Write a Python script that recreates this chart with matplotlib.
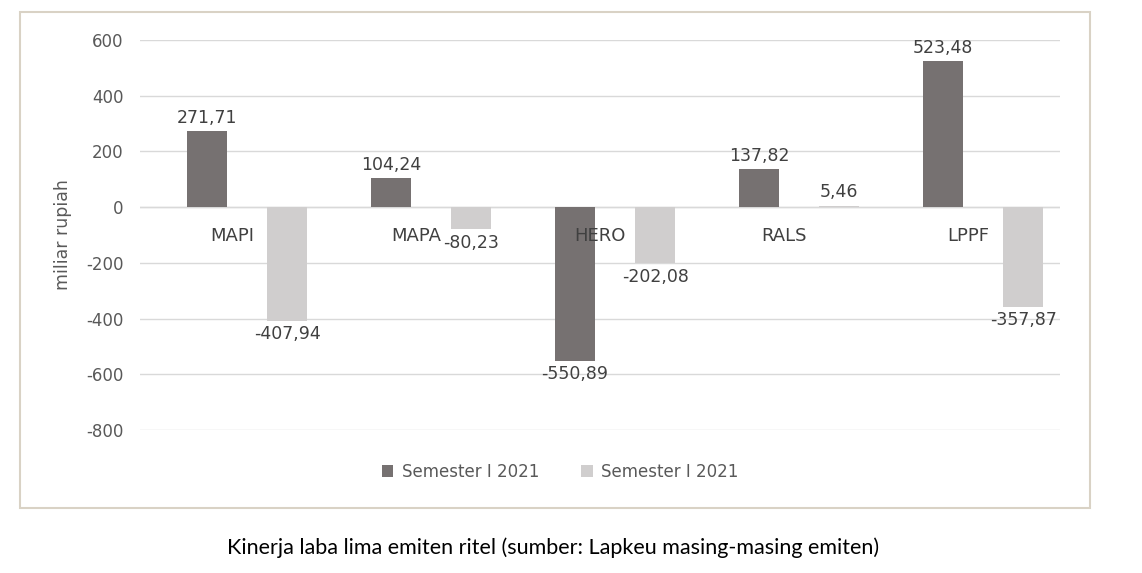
import matplotlib
matplotlib.use("Agg")
import matplotlib.pyplot as plt
from matplotlib.patches import Rectangle
import numpy as np

categories = ["MAPI", "MAPA", "HERO", "RALS", "LPPF"]
series1 = [271.71, 104.24, -550.89, 137.82, 523.48]
series2 = [-407.94, -80.23, -202.08, 5.46, -357.87]
series_names = ["Semester I 2021", "Semester I 2021"]
yticks = [600, 400, 200, 0, -200, -400, -600, -800]

W, H = 1142, 573
fig = plt.figure(figsize=(W/100, H/100), dpi=100)
fig.patches.append(Rectangle((20/W, 1-508/H), 1070/W, 496/H, transform=fig.transFigure,
                             fill=False, edgecolor="#D9D2C5", linewidth=1.5))
ax = fig.add_axes([140/W, 1-430/H, 920/W, 390/H])
x = np.arange(len(categories))
w = 0.22
c1, c2 = "#767171", "#D0CECE"
b1 = ax.bar(x - 0.136, series1, w, color=c1, label=series_names[0], zorder=3)
b2 = ax.bar(x + 0.30, series2, w, color=c2, label=series_names[1], zorder=3)
for bars, vals in ((b1, series1), (b2, series2)):
    for r, v in zip(bars, vals):
        cx = r.get_x() + r.get_width()/2
        txt = f"{v:.2f}".replace(".", ",")
        if v >= 0:
            ax.text(cx, v + 15, txt, ha="center", va="bottom", fontsize=12.5, color="#404040", zorder=4)
        else:
            ax.text(cx, v - 15, txt, ha="center", va="top", fontsize=12.5, color="#404040", zorder=4)
for i, c in enumerate(categories):
    ax.text(i, -105, c, ha="center", va="center", fontsize=13, color="#404040", zorder=5)
ax.set_xlim(-0.5, len(categories) - 0.5)
ax.set_ylim(-800, 600)
ax.set_yticks(yticks)
ax.set_yticklabels([str(t) for t in yticks], fontsize=12, color="#595959")
ax.set_xticks([])
ax.tick_params(axis="y", length=0, pad=12)
ax.grid(axis="y", color="#D9D9D9", linewidth=1, zorder=0)
ax.axhline(0, color="#D9D9D9", linewidth=1, zorder=2)
for s in ax.spines.values():
    s.set_visible(False)
ax.set_ylabel("miliar rupiah", fontsize=12.5, color="#595959", labelpad=10)
fig.legend(handles=[b1, b2], loc="center", bbox_to_anchor=(560/W, 1-472/H), ncol=2,
           frameon=False, fontsize=12, handlelength=0.7, handleheight=0.7,
           columnspacing=2.5, handletextpad=0.5, labelcolor="#595959")
fig.text(553/W, 1-548/H, "Kinerja laba lima emiten ritel (sumber: Lapkeu masing-masing emiten)",
         ha="center", va="center", fontsize=15.5, family="Lato", color="black")
fig.savefig("out.png", dpi=100)
